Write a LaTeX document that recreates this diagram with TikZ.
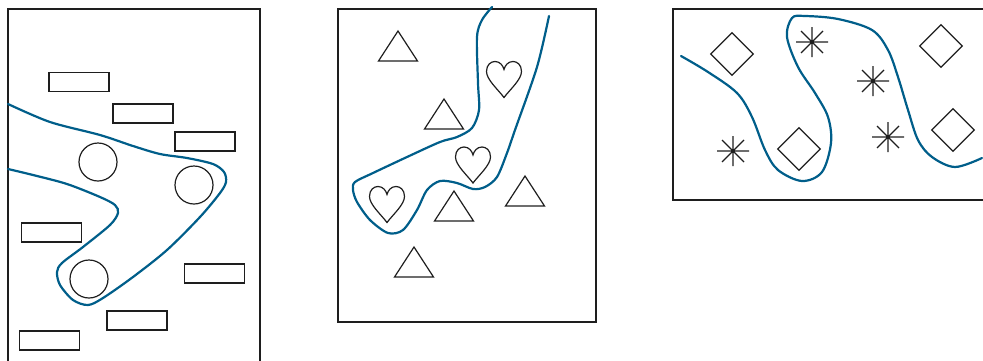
\documentclass[tikz,border=0pt]{standalone}
\usetikzlibrary{shapes.geometric}
\definecolor{curveblue}{RGB}{0,94,138}
\definecolor{ink}{RGB}{30,30,30}
\begin{document}
\begin{tikzpicture}[x=1pt,y=-1pt,
  frame/.style={draw=ink,line width=1.3pt},
  box/.style={draw=ink,line width=1.2pt,minimum width=60pt,minimum height=19pt,inner sep=0pt},
  ring/.style={circle,draw=ink,line width=1.2pt,minimum size=38pt,inner sep=0pt},
  gem/.style={diamond,draw=ink,line width=1.2pt,minimum width=43pt,minimum height=43pt,inner sep=0pt},
  border/.style={draw=curveblue,line width=2.2pt,line cap=round},
  tri/.pic={\draw[ink,line width=1.2pt,line join=miter] (0,-15) -- (-19.5,15) -- (19.5,15) -- cycle;},
  heart/.pic={\draw[ink,line width=1.2pt] (0,18) .. controls (-6,10) and (-17.5,0) .. (-17.5,-8)
      .. controls (-17.5,-15) and (-13,-18) .. (-9,-18) .. controls (-4,-18) and (-1,-14) .. (0,-10)
      .. controls (1,-14) and (4,-18) .. (9,-18) .. controls (13,-18) and (17.5,-15) .. (17.5,-8)
      .. controls (17.5,0) and (6,10) .. (0,18) -- cycle;},
  spark/.pic={\draw[ink,line width=1.2pt] (-16,0) -- (16,0) (0,-15) -- (0,15)
      (-11,-11) -- (11,11) (-11,11) -- (11,-11); \fill[ink] (0,0) circle (1.8pt);}
]
\useasboundingbox (0,0) rectangle (983,360);
\clip (0,0) rectangle (983,360);

% ---------- panel 1 ----------
\draw[frame] (8,9) rectangle (260,375);
\node[box] (r1) at (79,82) {};
\node[box] (r2) at (143,113.5) {};
\node[box] (r3) at (205,141.5) {};
\node[box] (r4) at (51.5,232.5) {};
\node[box] (r5) at (214.5,273.5) {};
\node[box] (r6) at (137,320.5) {};
\node[box] (r7) at (49.5,340.5) {};
\node[ring] (c1) at (98,162) {};
\node[ring] (c2) at (194,185) {};
\node[ring] (c3) at (89,279) {};
\draw[border] plot[smooth,tension=0.5] coordinates {(8,104) (50,122) (100,135) (133,146) (160,154) (187,158) (213,164) (224,172) (226,182) (220,193) (200,217) (167,250) (133,277) (103,298) (88,305) (73,300) (60,285) (57,272) (62,263) (83,247) (110,225) (118,213) (115,205) (100,197) (67,184) (33,175) (8,169)};

% ---------- panel 2 ----------
\draw[frame] (338,9) rectangle (596,322);
\pic (t1) at (398,46) {tri};
\pic (t2) at (444,114) {tri};
\pic (t3) at (525,191) {tri};
\pic (t4) at (454,206) {tri};
\pic (t5) at (414,262) {tri};
\pic (h1) at (504,79.5) {heart};
\pic (h2) at (473,165) {heart};
\pic (h3) at (387,204.5) {heart};
\draw[border] plot[smooth,tension=0.5] coordinates {(492,7) (482,20) (477,37) (478,83) (479,110) (472,128) (457,137) (440,142) (407,157) (373,173) (355,182) (353,190) (357,202) (370,220) (388,233) (403,230) (417,210) (427,190) (440,181) (457,183) (473,189) (485,187) (497,177) (507,153) (515,130) (537,67) (549,16)};

% ---------- panel 3 ----------
\draw[frame] (673,9) rectangle (995,200);
\node[gem] (d1) at (732,54) {};
\node[gem] (d2) at (799,149) {};
\node[gem] (d3) at (941,46) {};
\node[gem] (d4) at (953,130) {};
\pic (s1) at (812,42) {spark};
\pic (s2) at (873,81) {spark};
\pic (s3) at (888,137) {spark};
\pic (s4) at (733,151) {spark};
\draw[border] plot[smooth,tension=0.55] coordinates {(681,56) (708,72) (737,93) (752,117) (765,150) (778,170) (802,181) (822,172) (831,143) (828,117) (815,93) (798,67) (787,37) (792,18) (805,16) (838,19) (872,30) (888,50) (898,77) (908,110) (918,140) (932,157) (955,167) (982,158)};
\end{tikzpicture}
\end{document}
